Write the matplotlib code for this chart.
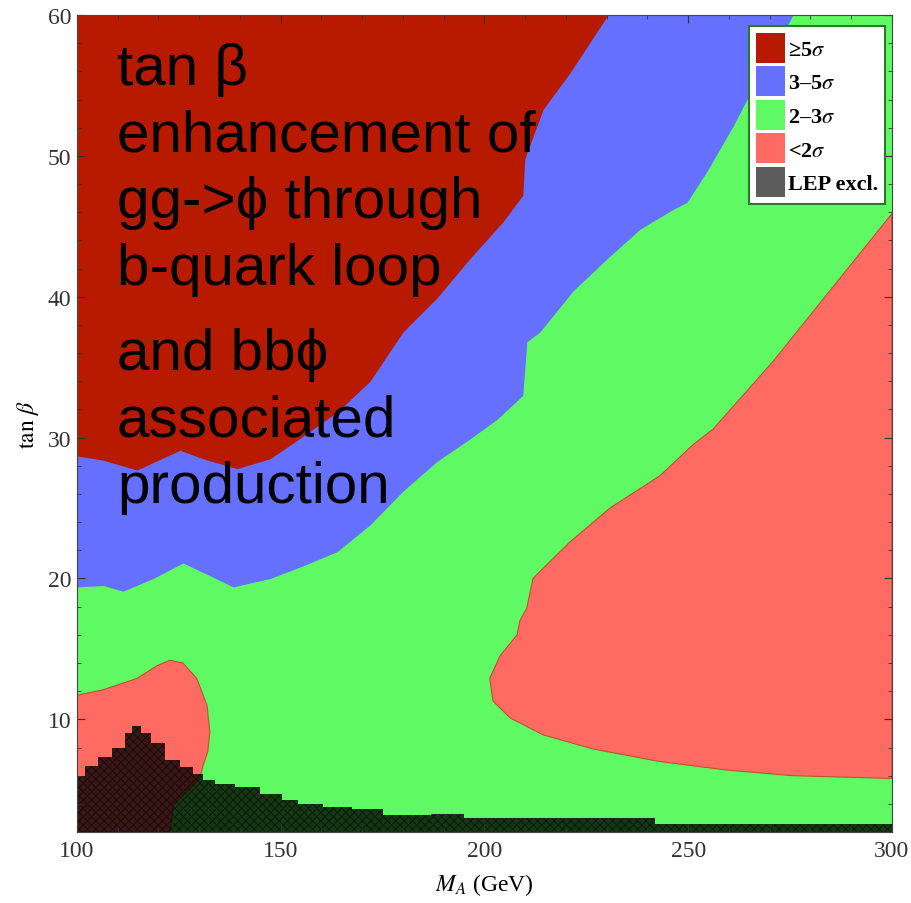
import matplotlib
matplotlib.use("Agg")
import matplotlib.pyplot as plt
from matplotlib.patches import Patch

plt.rcParams['font.family'] = 'serif'
plt.rcParams['font.serif'] = ['Liberation Serif', 'DejaVu Serif']
plt.rcParams['mathtext.fontset'] = 'stix'
plt.rcParams['hatch.linewidth'] = 0.6

# boundary between >=5 sigma and 3-5 sigma (M_A, tan beta)
red_x = [100.0, 106.4, 114.7, 125.3, 130.9, 139.3, 147.4, 155.5, 163.8, 171.9,
         180.0, 188.3, 196.4, 204.5, 209.4, 209.9, 214.4, 221.0, 230.3]
red_y = [28.7, 28.4, 27.7, 29.1, 28.5, 27.8, 28.5, 30.1, 31.8, 34.0,
         37.5, 39.9, 42.7, 45.3, 47.2, 49.8, 53.3, 55.9, 60.0]

# boundary between 3-5 sigma and 2-3 sigma
blue_x = [100.0, 106.4, 111.3, 118.7, 126.0, 132.6, 138.3, 147.4, 155.5, 163.8,
          171.9, 180.0, 188.3, 196.4, 203.1, 209.4, 210.4, 213.6, 221.7, 230.1,
          238.2, 246.3, 249.7, 254.6, 261.0, 264.4, 275.7]
blue_y = [19.4, 19.5, 19.1, 20.0, 21.1, 20.2, 19.4, 20.0, 20.9, 21.9,
          23.8, 26.2, 28.3, 29.9, 31.3, 33.0, 36.8, 37.5, 40.4, 42.7,
          44.8, 46.2, 46.7, 48.9, 52.1, 54.0, 60.0]

# < 2 sigma region at large M_A (closed outline)
low_x = [300.0, 287.2, 270.8, 256.1, 251.2, 243.1, 230.8, 221.0, 211.9, 210.4,
         208.7, 208.0, 203.8, 201.3, 202.1, 206.3, 214.4, 226.6, 243.1, 259.5,
         275.7, 300.0]
low_y = [45.9, 41.3, 35.4, 30.6, 29.5, 27.3, 25.0, 22.6, 20.0, 17.9,
         17.0, 16.0, 14.5, 12.9, 11.3, 10.1, 8.9, 7.9, 7.0, 6.4,
         6.0, 5.8]

# < 2 sigma pocket at small M_A (closed outline)
pocket_x = [100.0, 106.4, 114.7, 119.6, 122.8, 126.0, 129.4, 131.9, 132.6, 132.1,
            130.9, 130.2, 123.6, 122.8, 100.0]
pocket_y = [11.7, 12.1, 12.9, 13.8, 14.2, 14.0, 12.9, 11.0, 9.1, 7.7,
            6.7, 5.8, 3.9, 2.0, 2.0]

# upper edge of the LEP excluded area
lep_x = [100.0, 104.0, 106.4, 110.6, 113.0, 114.2, 117.0, 119.4, 123.6, 126.8,
         130.2, 131.7, 135.9, 141.5, 148.1, 152.3, 156.2, 164.4, 170.8, 179.3,
         194.7, 195.2, 241.8, 242.1, 300.0]
lep_y = [6.0, 6.7, 7.3, 8.0, 9.0, 9.5, 9.0, 8.3, 7.1, 6.6,
         6.1, 5.7, 5.4, 5.2, 4.7, 4.3, 4.0, 3.8, 3.6, 3.2,
         3.3, 3.0, 3.0, 2.6, 2.6]

labels = ['≥5$\\sigma$', '3–5$\\sigma$', '2–3$\\sigma$', '<2$\\sigma$', 'LEP excl.']
colors = ['#B81A00', '#6570FE', '#5FFA63', '#FF6B62', '#5C5C5C']

note_block1 = ['tan β', 'enhancement of', 'gg->ϕ through', 'b-quark loop']
note_block2 = ['and bbϕ', 'associated', 'production']

fig = plt.figure(figsize=(9.12, 9.04), dpi=100)
ax = fig.add_axes([0.0844, 0.0785, 0.8936, 0.9038])
ax.set_xlim(100, 300)
ax.set_ylim(2, 60)

ax.set_facecolor(colors[2])
ax.fill_between(blue_x, blue_y, 60, color=colors[1], lw=0)
ax.fill_between(red_x, red_y, 60, color=colors[0], lw=0)
ax.fill(low_x, low_y, facecolor=colors[3], edgecolor='#C0502E', lw=0.8)
ax.fill(pocket_x, pocket_y, facecolor=colors[3], edgecolor='#C0502E', lw=0.8)
ax.fill_between(lep_x, 0, lep_y, step='mid', facecolor=(0, 0, 0, 0.78),
                edgecolor=(0, 0, 0, 0.55), hatch='xxxx', lw=0)

ax.set_xticks([100, 150, 200, 250, 300])
ax.set_xticks(range(100, 301, 10), minor=True)
ax.set_yticks([10, 20, 30, 40, 50, 60])
ax.set_yticks(range(2, 61, 2), minor=True)
ax.tick_params(which='both', direction='in', top=True, right=True,
               labelsize=17, colors='#333333')
ax.tick_params(which='major', length=6, width=0.8)
ax.tick_params(which='minor', length=3, width=0.6)
ax.tick_params(axis='x', pad=6)
ax.tick_params(axis='y', pad=4)
for s in ax.spines.values():
    s.set_color('#444444')
    s.set_linewidth(0.8)

ax.set_xlabel(r'$M_A$ (GeV)', fontsize=17, labelpad=7)
ax.set_ylabel(r'$\tan\,\beta$', fontsize=17, labelpad=5)

handles = [Patch(facecolor=c, edgecolor='none') for c in colors]
leg = ax.legend(handles, labels, loc='upper right', bbox_to_anchor=(0.9914, 0.9865),
                borderaxespad=0, fancybox=False, framealpha=1,
                prop={'family': 'serif', 'weight': 'bold', 'size': 16},
                handlelength=1.3, handleheight=1.7, handletextpad=0.15,
                labelspacing=0.16, borderpad=0.3)
leg.get_frame().set_edgecolor('#2A7A2A')
leg.get_frame().set_linewidth(1.5)

# annotation text in the upper left
sans = ['Liberation Sans', 'DejaVu Sans']
y = 0.9155
for line in note_block1:
    ax.text(0.049, y, line, transform=ax.transAxes, fontsize=42, family=sans,
            va='baseline', ha='left', color='black')
    y -= 0.0816
y = 0.5667
for line in note_block2:
    ax.text(0.049, y, line, transform=ax.transAxes, fontsize=42, family=sans,
            va='baseline', ha='left', color='black')
    y -= 0.0816

fig.savefig('out.png', dpi=100)
